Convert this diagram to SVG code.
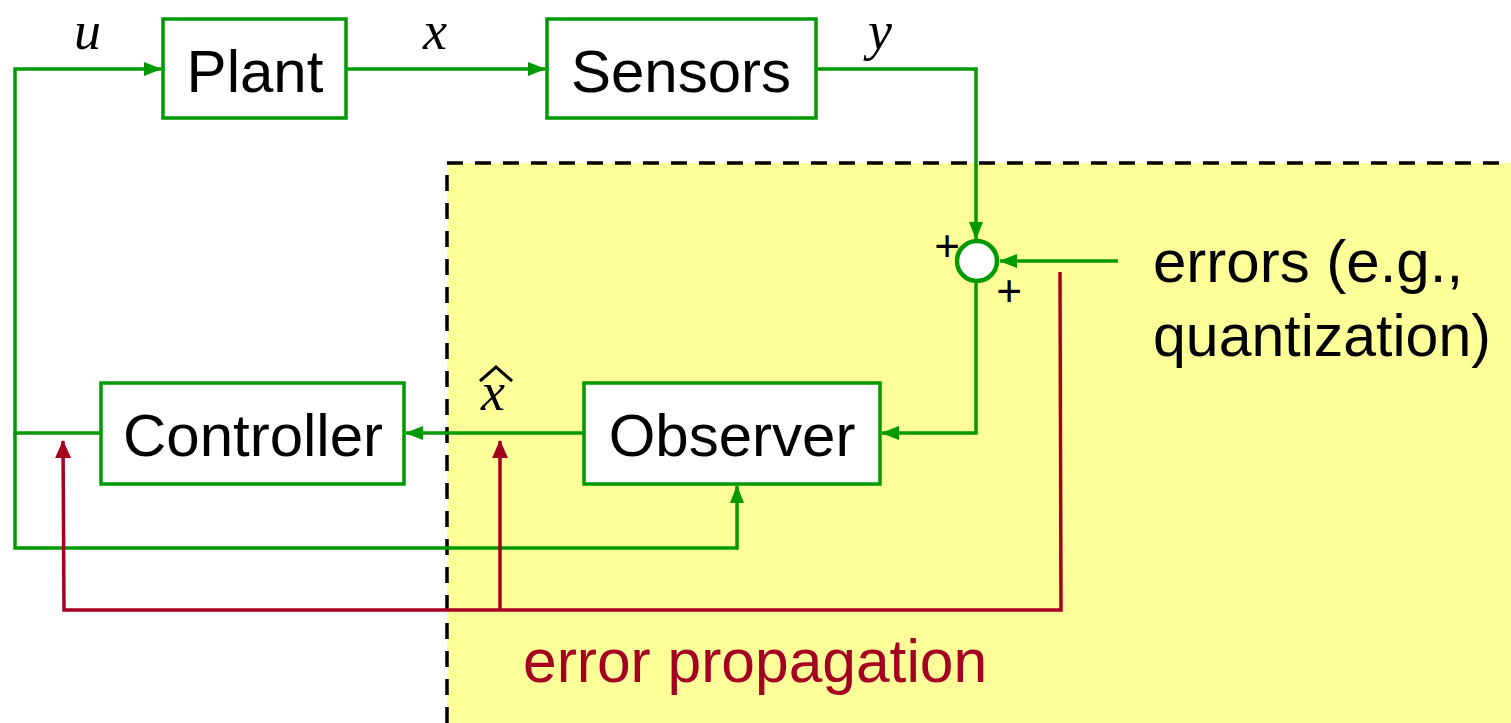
<svg xmlns="http://www.w3.org/2000/svg" width="1511" height="723" viewBox="0 0 1511 723">
<defs>
<marker id="ag" markerWidth="18" markerHeight="16" refX="17" refY="8" orient="auto" markerUnits="userSpaceOnUse"><path d="M0,1 L18,8 L0,15 Z" fill="#009900"/></marker>
<marker id="ar" markerWidth="18" markerHeight="18" refX="17" refY="9" orient="auto" markerUnits="userSpaceOnUse"><path d="M0,1 L18,9 L0,17 Z" fill="#a50021"/></marker>
</defs>
<style>
.box{fill:#fff;stroke:#009900;stroke-width:3.5}
.bt{font-family:"Liberation Sans",Arial,sans-serif;font-size:60px;fill:#000;text-anchor:middle}
.g{fill:none;stroke:#009900;stroke-width:3.5}
.r{fill:none;stroke:#a50021;stroke-width:3.5}
.m{font-family:"Liberation Serif","DejaVu Serif",serif;font-style:italic;font-size:54px;fill:#000}
.pl{font-family:"Liberation Sans",Arial,sans-serif;font-size:44px;fill:#000;text-anchor:middle}
</style>
<g id="region">
<rect x="447" y="163" width="1070" height="570" fill="#ffff99"/>
<path d="M447,723 L447,163 L1511,163" fill="none" stroke="#000" stroke-width="3.5" stroke-dasharray="16 12"/>
</g>
<g id="connectors">
<path class="g" d="M101,433 L15,433 L15,69 L161,69" marker-end="url(#ag)"/>
<path class="g" d="M15,433 L15,548 L737,548 L737,486" marker-end="url(#ag)"/>
<path class="g" d="M346,69 L545,69" marker-end="url(#ag)"/>
<path class="g" d="M816,69 L976,69 L976,239" marker-end="url(#ag)"/>
<path class="g" d="M1118,261 L1000,261" marker-end="url(#ag)"/>
<path class="g" d="M976,282 L976,433 L882,433" marker-end="url(#ag)"/>
<path class="g" d="M584,433 L406,433" marker-end="url(#ag)"/>
<path class="r" d="M1060,272 L1061,610 L64,610 L63,441" marker-end="url(#ar)"/>
<path class="r" d="M500,610 L500,441" marker-end="url(#ar)"/>
</g>
<g id="plant"><rect class="box" x="163" y="19" width="183" height="99"/><text class="bt" x="255" y="92">Plant</text></g>
<g id="sensors"><rect class="box" x="547" y="19" width="269" height="99"/><text class="bt" x="681" y="92">Sensors</text></g>
<g id="controller"><rect class="box" x="101" y="383" width="303" height="101"/><text class="bt" x="253" y="456">Controller</text></g>
<g id="observer"><rect class="box" x="584" y="383" width="296" height="101"/><text class="bt" x="732" y="456">Observer</text></g>
<g id="sum"><circle cx="977" cy="261" r="20" fill="#fff" stroke="#009900" stroke-width="4.5"/>
<text class="pl" x="947" y="261">+</text><text class="pl" x="1009" y="306">+</text></g>
<g id="labels">
<text class="m" x="74" y="49">u</text>
<text class="m" x="423" y="49">x</text>
<text class="m" x="868" y="49">y</text>
<text class="m" x="481" y="410">x</text>
<path d="M480,381 L496,367 L512,381" fill="none" stroke="#000" stroke-width="3"/>
<text class="bt" x="1153" y="282" style="text-anchor:start">errors (e.g.,</text>
<text class="bt" x="1153" y="356" style="text-anchor:start;font-size:59px">quantization)</text>
<text class="bt" x="523" y="682" style="text-anchor:start;fill:#a50021;font-size:60.5px">error propagation</text>
</g>
</svg>
